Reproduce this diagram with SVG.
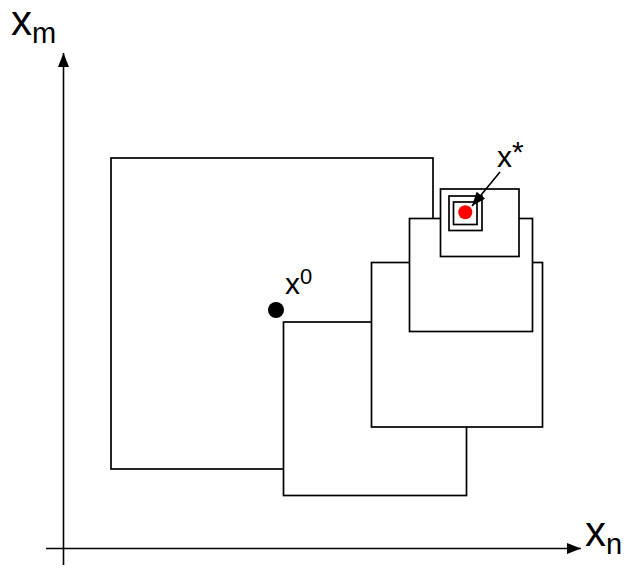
<svg xmlns="http://www.w3.org/2000/svg" width="626" height="569" viewBox="0 0 626 569">
  <style>
    .box { fill: #ffffff; stroke: #000000; stroke-width: 1.7; }
    .axis { stroke: #000000; stroke-width: 1.6; fill: none; }
    .lbl { font-family: "Liberation Sans", Arial, sans-serif; fill: #000000; }
  </style>
  <defs>
    <marker id="head" viewBox="0 0 14 11" refX="14" refY="5.5" markerWidth="14" markerHeight="11" markerUnits="userSpaceOnUse" orient="auto">
      <path d="M0,0 L14,5.5 L0,11 Z" fill="#000000"/>
    </marker>
  </defs>
  <rect width="626" height="569" fill="#ffffff"/>

  <!-- axes -->
  <g id="axes">
    <line class="axis" x1="63.5" y1="565" x2="63.5" y2="53" marker-end="url(#head)"/>
    <line class="axis" x1="46" y1="548.5" x2="581" y2="548.5" marker-end="url(#head)"/>
    <text class="lbl" x="11" y="35" font-size="42">x<tspan font-size="29" dy="8">m</tspan></text>
    <text class="lbl" x="585" y="546" font-size="42">x<tspan font-size="29" dy="8">n</tspan></text>
  </g>

  <!-- successive search boxes, each drawn over the previous one -->
  <g id="box1"><rect class="box" x="111" y="158" width="322" height="311"/></g>
  <g id="box2"><rect class="box" x="283.5" y="322" width="183" height="173.5"/></g>
  <g id="box3"><rect class="box" x="371.5" y="262.5" width="171" height="164.5"/></g>
  <g id="box4"><rect class="box" x="409.5" y="218.5" width="123" height="113"/></g>
  <g id="box5"><rect class="box" x="440.5" y="189" width="78.5" height="67.5"/></g>
  <g id="box6"><rect class="box" x="449" y="196" width="33" height="34.5"/></g>
  <g id="box7"><rect class="box" x="453.5" y="202" width="23.5" height="22.5"/></g>

  <!-- start point -->
  <g id="start">
    <circle cx="276" cy="310" r="8" fill="#000000"/>
    <text class="lbl" x="285" y="293.5" font-size="30">x<tspan font-size="22" dy="-10">0</tspan></text>
  </g>

  <!-- optimum -->
  <g id="optimum">
    <circle cx="465.3" cy="212.3" r="7" fill="#ff0000"/>
    <text class="lbl" x="497" y="167" font-size="30">x<tspan font-size="30" dy="-5">*</tspan></text>
  </g>

  <g id="connectors">
    <line class="axis" x1="500" y1="172" x2="472" y2="206" marker-end="url(#head)"/>
  </g>
</svg>
